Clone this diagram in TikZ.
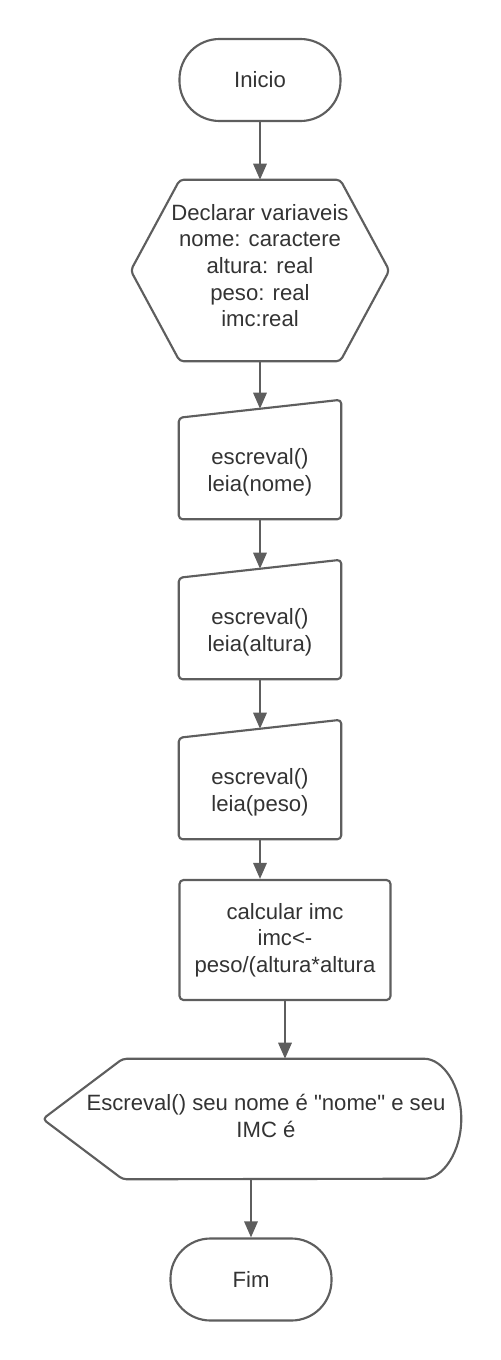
\documentclass[tikz,border=0pt]{standalone}
\usepackage{fontspec}
\setmainfont{Liberation Sans}[Ligatures=TeXOff]
\usetikzlibrary{arrows.meta,calc}
\definecolor{linha}{HTML}{5E5E5E}
\definecolor{texto}{HTML}{333333}
\begin{document}
\begin{tikzpicture}[x=0.75pt,y=-0.75pt,>={Triangle[length=12pt,width=10pt]}, line join=round,
  every node/.style={font=\fontsize{16.6pt}{20pt}\selectfont, text=texto, align=center, inner sep=0pt},
  forma/.style={draw=linha, line width=1.6pt, rounded corners=3pt},
  terminal/.style={forma, rounded corners=30pt, minimum width=161*0.75pt, minimum height=82*0.75pt},
  entrada/.style={minimum width=162*0.75pt, minimum height=110*0.75pt},
  seta/.style={->, draw=linha, line width=1.6pt}]
\useasboundingbox (0,0) rectangle (500,1360);
% Nos
\node[terminal] (inicio) at (260,80) {Inicio};
\node[minimum width=258*0.75pt, minimum height=181*0.75pt] (decl) at (260,270.5) {};
\node (tdecl) at (260,265.5) {Declarar variaveis\\nome: caractere\\altura: real\\peso: real\\imc:real};
\node[entrada] (nome) at (260,464) {};
\node[entrada] (altura) at (260,624) {};
\node[entrada] (peso) at (260,784) {};
\node (tnome) at (260,472) {escreval()\\leia(nome)};
\node (taltura) at (260,632) {escreval()\\leia(altura)};
\node (tpeso) at (260,792) {escreval()\\leia(peso)};
\node[forma, minimum width=211*0.75pt, minimum height=120*0.75pt] (calc) at (285,940)
  {calcular imc\\imc<-\\peso/(altura*altura};
\node[minimum width=390*0.75pt, minimum height=120*0.75pt] (saida) at (266,1119) {};
\node (tsaida) at (266,1116) {Escreval() seu nome é "nome" e seu\\IMC é};
\node[terminal] (fim) at (251,1279.5) {Fim};
% Formas
\draw[forma] (decl.west) -- ($(decl.north west)+(49,0)$) -- ($(decl.north east)+(-49,0)$)
  -- (decl.east) -- ($(decl.south east)+(-49,0)$) -- ($(decl.south west)+(49,0)$) -- cycle;
\foreach \n in {nome,altura,peso}
  \draw[forma] ($(\n.north east)+(0,-9)$) -- (\n.south east) -- (\n.south west)
    -- ($(\n.north west)+(0,9)$) -- cycle;
\draw[forma] ($(saida.west)+(-28,0)$) -- ($(saida.north west)+(52,0)$) -- ($(saida.north east)+(-41,0)$)
  arc[start angle=-90, end angle=90, x radius=41, y radius=60] -- ($(saida.south west)+(52,0)$) -- cycle;
% Setas
\draw[seta] (inicio) -- (decl);
\draw[seta] (decl) -- (nome);
\draw[seta] (nome) -- (altura);
\draw[seta] (altura) -- (peso);
\draw[seta] (peso.south) -- (peso.south |- calc.north);
\draw[seta] (calc.south) -- (calc.south |- saida.north);
\draw[seta] (fim.north |- saida.south) -- (fim);
\end{tikzpicture}
\end{document}
